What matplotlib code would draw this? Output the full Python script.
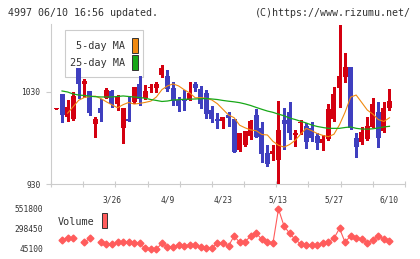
import numpy as np
import matplotlib
matplotlib.use('Agg')
from matplotlib import pyplot as plt
from matplotlib.patches import Rectangle

# daily prices, oldest first
opens = [1011.8, 1028, 1003, 1000.7, 1056.4, 1039, 1031, 995, 1012.3, 1023.5,
         1031.4, 1016.7, 990.5, 1000.7, 1019.5, 1039, 1023, 1034.5, 1034.7, 1048.5,
         1047.4, 1034, 1021.3, 1022, 1021.3, 1038.7, 1033.3, 1029.2, 1010.4, 1000.7,
         998.5, 1005, 1000.3, 967, 972.4, 982.2, 1005, 990.5, 964, 962.6,
         956, 999.6, 1008, 983.3, 996, 993, 991.2, 982.2, 974.9, 978.6,
         1000.7, 1034.7, 1046.4, 1056.8, 979.7, 976, 978.9, 992.3, 1008, 988,
         1013]
highs = [1012.3, 1028, 1021, 1030.3, 1056.4, 1043.7, 1031, 1003, 1022, 1034.7,
         1032, 1027, 1012.3, 1025, 1035.8, 1047, 1037.6, 1039, 1040.5, 1059.3,
         1054, 1041.2, 1025, 1032, 1041, 1041.2, 1036.5, 1032, 1014.8, 1007.5,
         1003.2, 1008.6, 1000.3, 985.8, 988, 999.6, 1011.2, 997.7, 972.4, 972.4,
         1020.6, 1012.3, 1019.5, 988.7, 999.6, 996.7, 997.7, 985.8, 983.3, 1016.5,
         1035.8, 1102.8, 1072.7, 1056.8, 985, 992.3, 1003.2, 1023.8, 1018.8, 1019.5,
         1033.3]
lows = [1011.8, 997.7, 999, 1000, 1023.5, 1024.5, 1005, 981.5, 999, 1023,
        1014, 1010, 975, 999, 1018, 1016, 1022, 1030, 1030.3, 1046,
        1031.4, 1016, 1009.7, 1010, 1021, 1031, 1013, 1002, 997.7, 990.5,
        990.5, 993.5, 965.1, 966, 971.3, 978.6, 980.8, 954.2, 949.6, 956,
        930, 967.8, 978.9, 971.3, 984, 968.8, 977, 967.8, 967, 978,
        999, 1013.4, 1041.2, 989.5, 959, 973.5, 977.8, 991.6, 970.6, 987,
        1010.4]
closes = [1012.3, 1004.5, 1013.4, 1025.7, 1038.7, 1042.3, 1007.5, 1000.5, 1007.6, 1032,
          1016.9, 1024.2, 1012.3, 999, 1035.8, 1022, 1031.4, 1035, 1038.7, 1055.8,
          1033, 1020.4, 1014.8, 1021, 1029.2, 1034, 1016.6, 1005.8, 1000.3, 999,
          1003.2, 1002, 965.1, 985.8, 988, 998.5, 981.4, 962.6, 951.7, 966.2,
          988.7, 995.2, 985, 985.8, 997.7, 976, 979.7, 974.9, 978.6, 1011.2,
          1027.8, 1047.4, 1056.8, 990.5, 970.6, 986.9, 993, 1017, 979.7, 1013,
          1020.2]

ma5 = [np.nan, np.nan, 1007, 1014, 1021, 1024, 1025, 1025.5, 1022.9, 1019.3,
       1016, 1012.9, 1016.2, 1018.6, 1016.9, 1017.6, 1018.7, 1020.1, 1024.6, 1032.6,
       1036.6, 1038.8, 1036.6, 1032.5, 1029.0, 1023.7, 1023.9, 1023.1, 1021.3, 1017.2,
       1011.1, 1005.0, 1002.1, 993.9, 991.0, 988.8, 987.9, 983.8, 983.3, 976.4,
       972.1, 970.1, 972.9, 977.4, 984.2, 990.5, 987.9, 984.8, 982.8, 981.4,
       984.1, 994.4, 1008.0, 1024.4, 1026.7, 1018.6, 1010.4, 1006, 1000, 998,
       1002]
ma25 = [np.nan, 1031.1, 1030, 1027.8, 1026.7, 1026.2, 1025.4, 1024.9, 1024.6, 1024.6,
        1024.6, 1025.1, 1025.7, 1025.1, 1024.6, 1024, 1023.2, 1021.8, 1020.8, 1019.7,
        1020.2, 1021.3, 1021.6, 1022.1, 1022.2, 1022.4, 1022.7, 1022.9, 1022.4, 1021.8,
        1020.8, 1020, 1019.3, 1018.4, 1017, 1015.3, 1013.2, 1011.2, 1009.3, 1007.9,
        1005.9, 1004.2, 1001.7, 1000.1, 998.2, 996.3, 994.1, 992.5, 991.4, 990.5,
        990.5, 990.5, 991.4, 992, 990.5, 989.8, 989.6, 990, 990.9, 992, 992.7]

volume = [np.nan, 159100, 188700, 188700, np.nan, 129550, 180200, np.nan, 129550, 104200,
          104200, 129550, 129550, 129550, 116900, 116900, 53500, 45100, 45100, 116900,
          74700, 74700, 95800, 83100, 95800, 95800, 66200, 53500, 53500, 125300,
          116900, 83100, 209800, 129550, 138000, 209800, 243600, 167600, 129550, 116900,
          551800, 336500, 243600, 167600, 108400, 95800, 95800, 95800, 116900, 138000,
          180200, 306900, 129550, 214000, 188700, 171800, 125300, 159100, 214000, 167600,
          146400]

date_idx = [10, 20, 30, 40, 50, 60]
date_labels = ['3/26', '4/9', '4/23', '5/13', '5/27', '6/10']
price_ticks = [930, 1030]
vol_ticks = [45100, 298450, 551800]

RED = '#d40010'
BLUE = '#3f3fbf'
ORANGE = '#f08a10'
GREEN = '#18a818'
PINK = '#ff5c5c'
GRAY = '#cccccc'
TXT = '#333333'
MONO = 'DejaVu Sans Mono'

W, H = 420, 259
fig = plt.figure(figsize=(W / 100, H / 100), dpi=100)
fig.patch.set_facecolor('white')


def fx(px):
    return px / W


def fy(py):
    return 1 - py / H


# ---- price panel
ax = fig.add_axes([fx(51), fy(184), fx(405) - fx(51), fy(24) - fy(184)])
x = np.arange(len(closes))
o = np.array(opens)
c = np.array(closes)
col = np.where(c >= o, RED, BLUE)
lo_body = np.minimum(o, c)
hgt = np.abs(c - o)
thin = hgt < 1.5
lo_body = np.where(thin, lo_body - (1.5 - hgt) / 2, lo_body)
hgt = np.maximum(hgt, 1.5)

ax.vlines(x, lows, highs, colors=col, lw=1.0, zorder=3, antialiased=False)
ax.bar(x, hgt, bottom=lo_body, width=0.9, color=col, lw=0, zorder=4,
       antialiased=False)
ax.plot(x, ma5, color=ORANGE, lw=0.8, zorder=5)
ax.plot(x, ma25, color=GREEN, lw=0.9, zorder=5)

ax.set_xlim(-0.99, 62.8)
ax.set_ylim(930, 1103.9)
for s in ['top', 'right']:
    ax.spines[s].set_visible(False)
for s in ['left', 'bottom']:
    ax.spines[s].set_color(GRAY)
    ax.spines[s].set_linewidth(0.8)

ax.set_yticks(price_ticks)
ax.set_yticklabels([str(v) for v in price_ticks], fontsize=5.7, family=MONO, color=TXT)
ax.tick_params(axis='y', length=3.6, width=0.8, color=GRAY, pad=4)

ax.set_xticks(date_idx)
ax.set_xticklabels(date_labels, fontsize=5.7, family=MONO, color=TXT)
ax.set_xticks(np.linspace(-0.99, 62.8, 12), minor=True)
ax.tick_params(axis='x', which='major', length=0, pad=8)
ax.tick_params(axis='x', which='minor', direction='inout', length=4.7,
               width=0.8, color=GRAY)

# legend box for the moving averages (drawn under the candles)
ax.add_patch(Rectangle((fx(65), fy(77)), fx(143) - fx(65), fy(30) - fy(77),
                       transform=fig.transFigure, facecolor='white',
                       edgecolor=GRAY, lw=0.8, zorder=1, clip_on=False))
ax.text(fx(125), fy(46), '5-day MA', transform=fig.transFigure, ha='right',
        va='center', fontsize=7.3, family=MONO, color=TXT, zorder=2)
ax.text(fx(125), fy(63), '25-day MA', transform=fig.transFigure, ha='right',
        va='center', fontsize=7.3, family=MONO, color=TXT, zorder=2)
ax.add_patch(Rectangle((fx(132), fy(52.5)), fx(137.5) - fx(132), fy(37.5) - fy(52.5),
                       transform=fig.transFigure, facecolor=ORANGE,
                       edgecolor=TXT, lw=0.7, zorder=2, clip_on=False))
ax.add_patch(Rectangle((fx(132), fy(69.5)), fx(137.5) - fx(132), fy(55) - fy(69.5),
                       transform=fig.transFigure, facecolor=GREEN,
                       edgecolor=TXT, lw=0.7, zorder=2, clip_on=False))

# ---- volume panel
ax2 = fig.add_axes([fx(51), fy(253), fx(405) - fx(51), fy(205) - fy(253)])
ax2.plot(x, volume, color=PINK, lw=0.8, marker='D', ms=3.5, mec=PINK, mfc=PINK)
ax2.set_xlim(-0.99, 62.8)
ax2.set_ylim(-5570, 602470)
ax2.set_xticks([])
ax2.set_yticks(vol_ticks)
ax2.set_yticklabels([str(v) for v in vol_ticks], fontsize=5.7, family=MONO, color=TXT)
ax2.tick_params(axis='y', length=0, pad=5.8)
for s in ax2.spines.values():
    s.set_visible(False)
ax2.patch.set_alpha(0)

fig.text(fx(58), fy(222), 'Volume', ha='left', va='center', fontsize=7.3,
         family=MONO, color=TXT)
fig.patches.append(Rectangle((fx(102), fy(228)), fx(107) - fx(102), fy(213) - fy(228),
                             transform=fig.transFigure, figure=fig,
                             facecolor=PINK, edgecolor=TXT, lw=0.7))

# ---- header
fig.text(fx(8), fy(13), '4997 06/10 16:56 updated.', ha='left', va='center',
         fontsize=7.2, family=MONO, color=TXT)
fig.text(fx(411), fy(13), '(C)https://www.rizumu.net/', ha='right', va='center',
         fontsize=7.2, family=MONO, color=TXT)

fig.savefig('out.png', dpi=100, facecolor='white')
